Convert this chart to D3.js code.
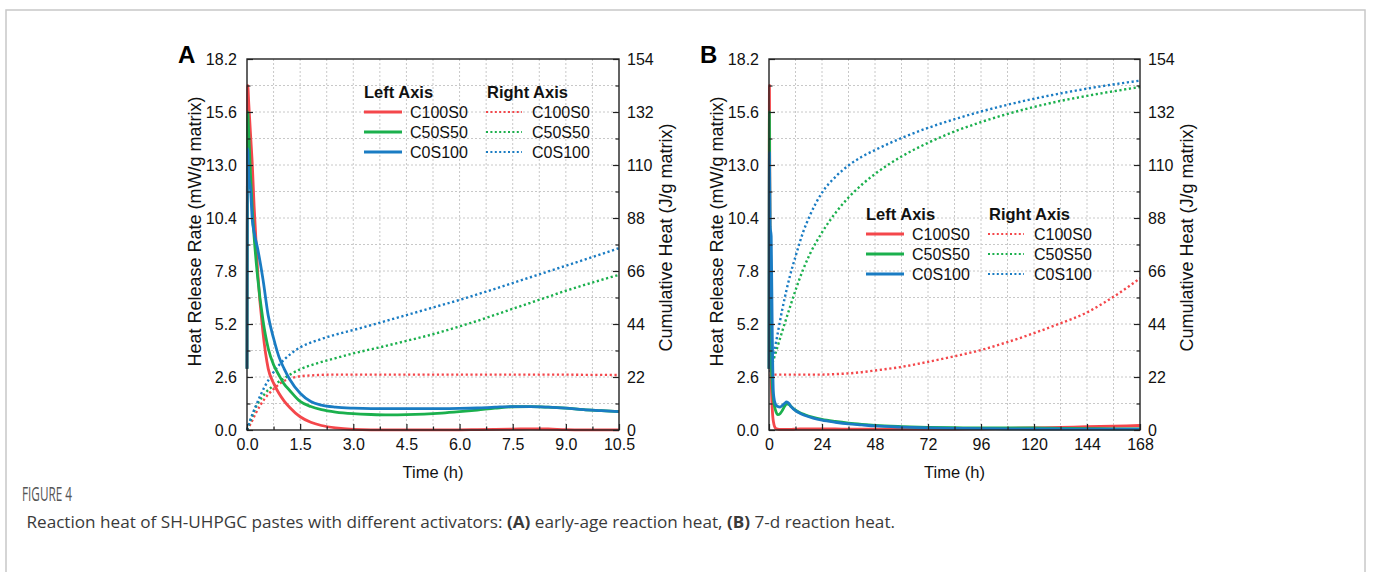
<!DOCTYPE html>
<html><head><meta charset="utf-8">
<script src="https://cdn.jsdelivr.net/npm/d3@7"></script>
<style>
html,body{margin:0;padding:0;background:#fff;}
svg{display:block;font-family:"Liberation Sans",Arial,sans-serif;}
</style></head>
<body><svg id="chart" width="1373" height="572"></svg>
<script>
// ---------- Panel A (early age, 0–10.5 h) ----------
const timeA_rate = [0,0.02,0.05,0.1,0.15,0.2,0.3,0.45,0.6,0.75,0.9,1.05,1.2,1.5,1.8,2.1,2.5,3,3.5,4,4.5,5,5.5,6,6.5,7,7.5,8,8.5,9,9.5,10,10.5];
const rateA_C100S0 = [3,16.9,16.0,14.5,13.0,11.0,7.8,4.8,3.0,2.3,1.8,1.42,1.12,0.65,0.38,0.22,0.1,0.03,0.01,0.01,0.01,0.01,0.01,0.01,0.02,0.03,0.04,0.06,0.05,0.02,0.01,0.01,0.01];
const rateA_C50S50 = [3,15.6,14.5,12.5,10.8,9.5,7.5,5.4,4.0,3.2,2.7,2.25,1.95,1.4,1.15,1.0,0.88,0.8,0.76,0.74,0.75,0.78,0.83,0.9,0.98,1.07,1.14,1.15,1.12,1.07,1.0,0.95,0.9];
const rateA_C0S100 = [3,13.8,12.5,11.8,10.3,9.7,8.9,7.4,5.6,4.5,3.6,3.0,2.5,1.8,1.4,1.22,1.12,1.07,1.05,1.05,1.05,1.05,1.05,1.06,1.08,1.12,1.15,1.15,1.12,1.07,1.0,0.95,0.9];

const timeA_cum = [0,0.1,0.25,0.5,0.75,1,1.25,1.5,2,2.5,3,3.5,4,4.5,5,5.5,6,6.5,7,7.5,8,8.5,9,9.5,10,10.5];
const cumA_C100S0 = [0,2.5,7,13,17,20,21.5,22.3,22.8,23,23,23,23,23,23,23,23,23,23,23,23,23,23,22.9,22.9,22.8];
const cumA_C50S50 = [0,4,9.5,15,18.5,21,23.3,25.2,27.8,29.8,31.8,33.5,35.2,37,38.8,40.8,43,45.3,47.8,50.3,52.8,55.3,57.8,60.1,62.3,64.4];
const cumA_C0S100 = [0,4.5,10,18,24,28.5,31.8,34.3,37.3,39.6,41.5,43.5,45.6,47.7,49.8,51.9,54,56.3,58.6,61,63.4,65.8,68.2,70.6,73,75.5];

// ---------- Panel B (7 days, 0–168 h) ----------
const timeB_rate = [0,0.2,0.5,1,1.5,2,3,4,5,6,7,8,9,10,12,14,16,20,24,30,36,42,48,60,72,84,96,108,120,132,144,156,168];
const rateB_C100S0 = [3,16.9,8,2.5,1.0,0.4,0.08,0.04,0.03,0.03,0.03,0.03,0.03,0.03,0.04,0.05,0.05,0.05,0.05,0.05,0.04,0.04,0.04,0.04,0.04,0.05,0.06,0.08,0.1,0.13,0.16,0.19,0.22];
const rateB_C50S50 = [3,15.6,7,3.5,2.2,1.5,0.95,0.75,0.8,0.95,1.15,1.28,1.26,1.15,0.97,0.85,0.76,0.62,0.52,0.42,0.34,0.28,0.23,0.17,0.13,0.11,0.1,0.1,0.1,0.08,0.07,0.06,0.05];
const rateB_C0S100 = [3,13.6,10,9.5,4.5,1.8,1.25,1.15,1.12,1.2,1.3,1.38,1.3,1.15,0.95,0.82,0.72,0.58,0.48,0.38,0.3,0.25,0.2,0.14,0.1,0.08,0.07,0.06,0.05,0.05,0.04,0.04,0.04];

const timeB_cum = [0.5,1,2,3.5,6,9.5,12,15.4,18.5,24,30,36,42,48,60,72,84,96,108,120,132,144,152,160,168];
const cumB_C100S0 = [22.5,23,23,23,23,23,23,23,23,23,23.2,23.5,24,24.7,26.2,28.3,30.6,33.2,36.5,40.2,44.3,48.8,53,57.7,63];
const cumB_C50S50 = [24,26,29,33.5,41,51,58,66.5,73,82,90,96.5,101.8,106.3,113.5,119.2,123.9,127.8,131.2,134.1,136.6,138.7,140,141.2,142.4];
const cumB_C0S100 = [24,27,31,38,50,64,72,82,89,98.5,105,109.8,113.4,116.2,121.2,125.4,129,132.2,135,137.5,139.7,141.7,142.9,144,145];

// ---------- Axes / labels ----------
const leftTicks = [0,2.6,5.2,7.8,10.4,13.0,15.6,18.2];
const rightTicks = [0,22,44,66,88,110,132,154];
const xTicksA = [0,1.5,3.0,4.5,6.0,7.5,9.0,10.5];
const xTicksB = [0,24,48,72,96,120,144,168];
const seriesNames = ["C100S0","C50S50","C0S100"];
const colors = ["#f4474b","#1bb04d","#1a7cc3"];

const svg = d3.select("#chart");

// outer figure frame
svg.append("rect").attr("x",6).attr("y",10).attr("width",1359).attr("height",600)
  .attr("fill","none").attr("stroke","#c8c8c8").attr("stroke-width",1.5);

function drawPanel(cfg){
  const {x0,x1,y0,y1} = cfg;
  const x = d3.scaleLinear().domain([0,cfg.xMax]).range([x0,x1]);
  const yL = d3.scaleLinear().domain([0,18.2]).range([y1,y0]);
  const yR = d3.scaleLinear().domain([0,154]).range([y1,y0]);
  const g = svg.append("g");

  // grid (every minor step)
  const xStep = cfg.xTicks[1]/2;
  const gx = d3.range(1,21).map(i=>i*xStep).filter(v=>v<cfg.xMax-1e-9);
  const gy = d3.range(1,14).map(i=>i*1.3);
  g.selectAll(".gx").data(gx).join("line")
    .attr("x1",d=>x(d)).attr("x2",d=>x(d)).attr("y1",y0).attr("y2",y1)
    .attr("stroke","#c8c8c8").attr("stroke-width",1).attr("stroke-dasharray","2,2");
  g.selectAll(".gy").data(gy).join("line")
    .attr("x1",x0).attr("x2",x1).attr("y1",d=>yL(d)).attr("y2",d=>yL(d))
    .attr("stroke","#c8c8c8").attr("stroke-width",1).attr("stroke-dasharray","2,2");

  // curves
  const cumLine = (ts,vs)=> d3.line().x((d,i)=>x(ts[i])).y(d=>yR(d)).curve(d3.curveMonotoneX)(vs);
  const rateLine = (ts,vs)=> d3.line().x((d,i)=>x(ts[i])).y(d=>yL(d)).curve(d3.curveMonotoneX)(vs);
  cfg.cum.forEach((vs,k)=>{
    g.append("path").attr("d",cumLine(cfg.tCum,vs)).attr("fill","none")
      .attr("stroke",colors[k]).attr("stroke-width",2.4).attr("stroke-dasharray","2.2,2.6");
  });
  cfg.rate.forEach((vs,k)=>{
    g.append("path").attr("d",rateLine(cfg.tRate,vs)).attr("fill","none")
      .attr("stroke",colors[k]).attr("stroke-width",2.8).attr("stroke-linejoin","round");
  });

  // axes
  const fmt1 = d3.format(".1f");
  const styleAxis = a=>{ a.select(".domain").remove(); a.selectAll("line").attr("stroke","#222").attr("stroke-width",1.2);
    a.selectAll("text").attr("font-size",16).attr("fill","#111").attr("font-family","Liberation Sans, Arial, sans-serif"); };
  const minors = (ticks)=> ticks.slice(0,-1).map((v,i)=>(v+ticks[i+1])/2);

  g.append("g").attr("transform",`translate(${x0},0)`)
    .call(d3.axisLeft(yL).tickValues(leftTicks).tickFormat(fmt1).tickSizeInner(-6).tickSizeOuter(0).tickPadding(10)).call(styleAxis);
  g.append("g").attr("transform",`translate(${x0},0)`)
    .call(d3.axisLeft(yL).tickValues(minors(leftTicks)).tickFormat("").tickSizeInner(-3.5).tickSizeOuter(0)).call(styleAxis);
  g.append("g").attr("transform",`translate(${x1},0)`)
    .call(d3.axisRight(yR).tickValues(rightTicks).tickFormat(d3.format("d")).tickSizeInner(-6).tickSizeOuter(0).tickPadding(8)).call(styleAxis);
  g.append("g").attr("transform",`translate(${x1},0)`)
    .call(d3.axisRight(yR).tickValues(minors(rightTicks)).tickFormat("").tickSizeInner(-3.5).tickSizeOuter(0)).call(styleAxis);
  g.append("g").attr("transform",`translate(0,${y1})`)
    .call(d3.axisBottom(x).tickValues(cfg.xTicks).tickFormat(cfg.xFmt).tickSizeInner(-6).tickSizeOuter(0).tickPadding(9)).call(styleAxis);
  g.append("g").attr("transform",`translate(0,${y1})`)
    .call(d3.axisBottom(x).tickValues(minors(cfg.xTicks)).tickFormat("").tickSizeInner(-3.5).tickSizeOuter(0)).call(styleAxis);

  // frame
  g.append("rect").attr("x",x0).attr("y",y0).attr("width",x1-x0).attr("height",y1-y0)
    .attr("fill","none").attr("stroke","#222").attr("stroke-width",1.4);

  // titles
  g.append("text").attr("x",(x0+x1)/2).attr("y",y1+48).attr("text-anchor","middle")
    .attr("font-size",16.5).attr("fill","#111").text("Time (h)");
  g.append("text").attr("transform",`translate(${x0-52},${(y0+y1)/2-13}) rotate(-90)`)
    .attr("text-anchor","middle").attr("dominant-baseline","central")
    .attr("font-size",18).attr("fill","#111").text("Heat Release Rate (mW/g matrix)");
  g.append("text").attr("transform",`translate(${x1+47},${(y0+y1)/2-7}) rotate(-90)`)
    .attr("text-anchor","middle").attr("dominant-baseline","central")
    .attr("font-size",18).attr("fill","#111").text("Cumulative Heat (J/g matrix)");
  g.append("text").attr("x",x0-69).attr("y",y0+4).attr("font-size",24).attr("font-weight","bold")
    .attr("fill","#000").text(cfg.letter);

  // legend
  const lx = x0+cfg.legX, ly = cfg.legY;
  g.append("text").attr("x",lx).attr("y",ly+6).attr("font-size",16.5).attr("font-weight","bold").attr("fill","#111").text("Left Axis");
  g.append("text").attr("x",lx+123).attr("y",ly+6).attr("font-size",16.5).attr("font-weight","bold").attr("fill","#111").text("Right Axis");
  seriesNames.forEach((nm,k)=>{
    const yy = ly + 20*(k+1);
    g.append("line").attr("x1",lx).attr("x2",lx+38).attr("y1",yy).attr("y2",yy)
      .attr("stroke",colors[k]).attr("stroke-width",2.8);
    g.append("text").attr("x",lx+46).attr("y",yy).attr("dominant-baseline","central")
      .attr("font-size",16).attr("fill","#111").text(nm);
    g.append("line").attr("x1",lx+122).attr("x2",lx+158).attr("y1",yy).attr("y2",yy)
      .attr("stroke",colors[k]).attr("stroke-width",2.2).attr("stroke-dasharray","2,2.4");
    g.append("text").attr("x",lx+168).attr("y",yy).attr("dominant-baseline","central")
      .attr("font-size",16).attr("fill","#111").text(nm);
  });
}

drawPanel({x0:247,x1:619,y0:59,y1:430,xMax:10.5,xTicks:xTicksA,xFmt:d3.format(".1f"),letter:"A",
  tRate:timeA_rate,rate:[rateA_C100S0,rateA_C50S50,rateA_C0S100],
  tCum:timeA_cum,cum:[cumA_C100S0,cumA_C50S50,cumA_C0S100],legX:117,legY:92});
drawPanel({x0:769,x1:1140,y0:59,y1:430,xMax:168,xTicks:xTicksB,xFmt:d3.format("d"),letter:"B",
  tRate:timeB_rate,rate:[rateB_C100S0,rateB_C50S50,rateB_C0S100],
  tCum:timeB_cum,cum:[cumB_C100S0,cumB_C50S50,cumB_C0S100],legX:97,legY:214});

// caption
svg.append("text").attr("x",22).attr("y",501).attr("font-family","Open Sans, sans-serif")
  .attr("font-size",20).attr("fill","#555").attr("textLength",50).attr("lengthAdjust","spacingAndGlyphs")
  .text("FIGURE 4");
const cap = svg.append("text").attr("x",22).attr("y",528).attr("font-family","Open Sans, sans-serif")
  .attr("font-size",16).attr("fill","#3a3a3a").attr("textLength",873).attr("lengthAdjust","spacingAndGlyphs")
  .attr("xml:space","preserve");
cap.append("tspan").text(" Reaction heat of SH-UHPGC pastes with different activators: ");
cap.append("tspan").attr("font-weight","bold").text("(A)");
cap.append("tspan").text(" early-age reaction heat, ");
cap.append("tspan").attr("font-weight","bold").text("(B)");
cap.append("tspan").text(" 7-d reaction heat.");
</script></body></html>
